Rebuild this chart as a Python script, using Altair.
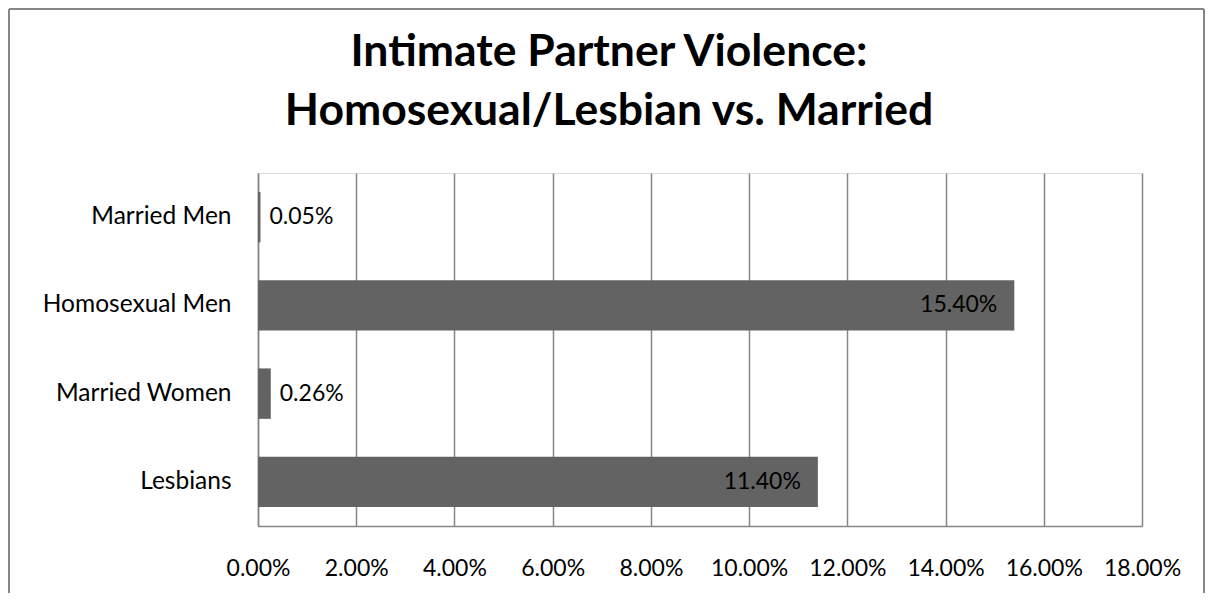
import altair as alt
import pandas as pd

# ---- data ----
categories = ["Married Men", "Homosexual Men", "Married Women", "Lesbians"]
rates = [0.0005, 0.154, 0.0026, 0.114]
label_inside = [False, True, False, True]
x_ticks = [0.0, 0.02, 0.04, 0.06, 0.08, 0.10, 0.12, 0.14, 0.16, 0.18]
title_lines = ["Intimate Partner Violence:", "Homosexual/Lesbian vs. Married"]

df = pd.DataFrame({"group": categories, "rate": rates, "inside": label_inside})
frame_df = pd.DataFrame({"k": [0]})

FONT = "Lato"
W, H = 884, 353
GRID = "#868686"
BAR = "#636363"

y_enc = alt.Y(
    "group:N",
    sort=categories,
    scale=alt.Scale(paddingInner=0.4286, paddingOuter=0.2143),
    axis=alt.Axis(
        title=None, labelFont=FONT, labelFontSize=24.5, labelColor="#000000",
        labelPadding=27, labelLimit=400, ticks=False, grid=False,
        domainColor=GRID, domainWidth=1.5,
    ),
)
x_enc = alt.X(
    "rate:Q",
    scale=alt.Scale(domain=[0, 0.18], nice=False, zero=True),
    axis=alt.Axis(
        title=None, values=x_ticks, format=".2%", labelFont=FONT,
        labelFontSize=23, labelColor="#000000", labelPadding=31,
        labelFlush=False, labelOverlap=False, ticks=False,
        grid=True, gridColor=GRID, gridWidth=1.5,
        domainColor=GRID, domainWidth=1.5,
    ),
)

base = alt.Chart(df)

bars = base.mark_bar(color=BAR).encode(x=x_enc, y=y_enc)

text_out = base.transform_filter("!datum.inside").mark_text(
    align="left", baseline="middle", dx=9, font=FONT, fontSize=23, color="#000000"
).encode(
    x=alt.X("rate:Q"), y=alt.Y("group:N", sort=categories),
    text=alt.Text("rate:Q", format=".2%"),
)

text_in = base.transform_filter("datum.inside").mark_text(
    align="right", baseline="middle", dx=-17, font=FONT, fontSize=23, color="#000000"
).encode(
    x=alt.X("rate:Q"), y=alt.Y("group:N", sort=categories),
    text=alt.Text("rate:Q", format=".2%"),
)

# chart frame (decoration): left, top and right edges
fr = alt.Chart(frame_df)
frame_left = fr.mark_rule(color=GRID, strokeWidth=2).encode(
    x=alt.value(-249), y=alt.value(-164), y2=alt.value(H + 80))
frame_top = fr.mark_rule(color=GRID, strokeWidth=2).encode(
    x=alt.value(-249), x2=alt.value(946), y=alt.value(-164))
frame_right = fr.mark_rule(color=GRID, strokeWidth=2).encode(
    x=alt.value(946), y=alt.value(-164), y2=alt.value(H + 80))

chart = alt.layer(
    bars, text_out, text_in, frame_left, frame_top, frame_right
).properties(
    width=W,
    height=H,
    padding={"left": 250, "top": 165, "right": 63, "bottom": 67},
    autosize=alt.AutoSizeParams(type="none"),
    title=alt.Title(
        text=title_lines, font=FONT, fontSize=44.5, fontWeight="bold",
        color="#000000", anchor="middle", dx=-91, offset=-126, lineHeight=59,
    ),
).configure_view(stroke=None).configure(background="#ffffff")

chart.save("out.html", embed_options={"renderer": "svg", "actions": False})
